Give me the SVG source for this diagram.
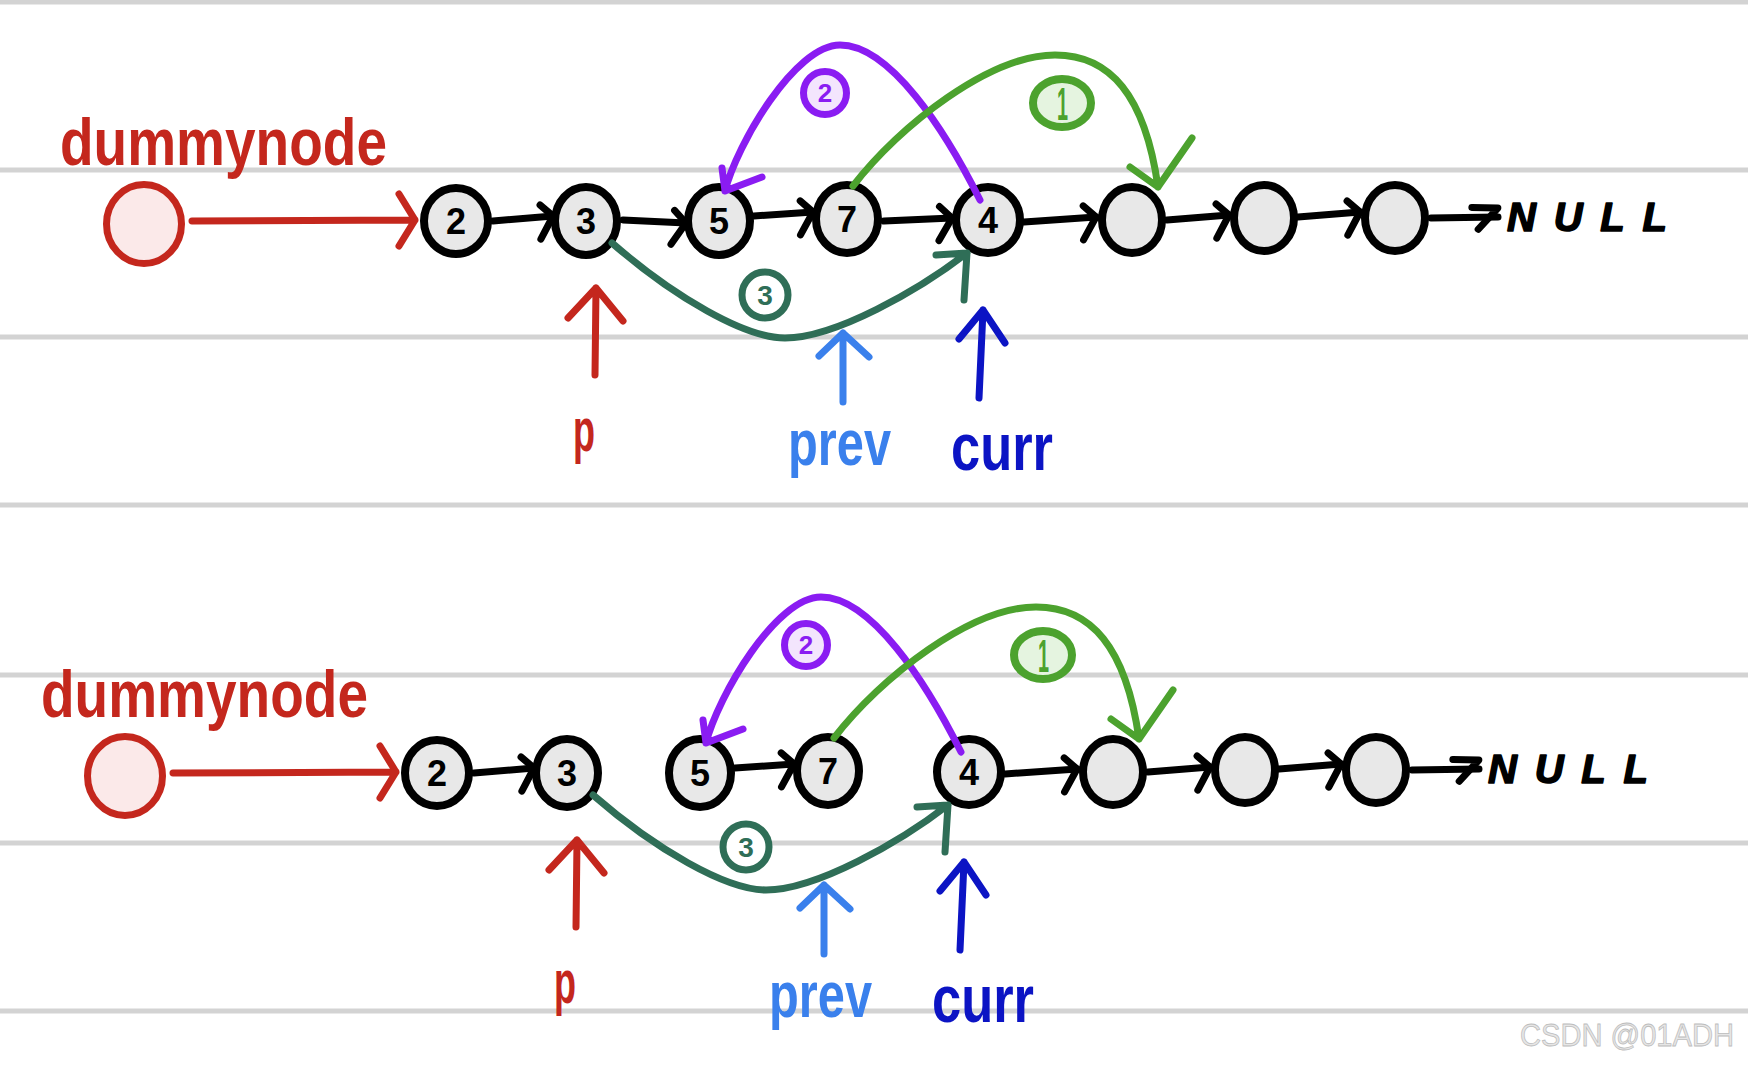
<svg xmlns="http://www.w3.org/2000/svg" width="1748" height="1065" viewBox="0 0 1748 1065">
<defs>
<style>
.bg{fill:#ffffff}
.rule{stroke:#d3d3d3;stroke-width:5}
.node{fill:#e8e8e8;stroke:#000;stroke-width:8}
.num{font-family:"Liberation Sans",Arial,sans-serif;font-weight:bold;font-size:36px;text-anchor:middle;fill:#000}
.link{fill:none;stroke:#000;stroke-width:7;stroke-linecap:round;stroke-linejoin:round}
.hand{font-family:"Liberation Sans",Arial,sans-serif;font-weight:bold}
.nulltxt{font-family:"Liberation Sans",Arial,sans-serif;font-weight:bold;font-style:italic;font-size:40px;fill:#000;stroke:#000;stroke-width:1.5;stroke-linejoin:round}
.red{stroke:#c4271d}
.lblue{stroke:#3a80ec}
.dblue{stroke:#0c14c4}
.purple{stroke:#8a1cf2}
.green{stroke:#4ca22e}
.dgreen{stroke:#2f6e57}
.pen{fill:none;stroke-width:7;stroke-linecap:round;stroke-linejoin:round}
</style>
<marker id="chev" markerUnits="userSpaceOnUse" viewBox="-30 -30 40 60" refX="0" refY="0" markerWidth="40" markerHeight="60" orient="auto" overflow="visible">
<path d="M-12,-12 L0,0 L-14,22" fill="none" stroke="#000" stroke-width="7" stroke-linecap="round" stroke-linejoin="round"/>
</marker>
<marker id="chevnull" markerUnits="userSpaceOnUse" viewBox="-30 -30 40 60" refX="0" refY="0" markerWidth="40" markerHeight="60" orient="auto" overflow="visible">
<path d="M-26,-10 L0,-9 L-20,12" fill="none" stroke="#000" stroke-width="7" stroke-linecap="round" stroke-linejoin="round"/>
</marker>
</defs>
<rect class="bg" x="0" y="0" width="1748" height="1065"/>
<g id="rules">
<line class="rule" x1="0" y1="2" x2="1748" y2="2"/>
<line class="rule" x1="0" y1="170" x2="1748" y2="170"/>
<line class="rule" x1="0" y1="337" x2="1748" y2="337"/>
<line class="rule" x1="0" y1="505" x2="1748" y2="505"/>
<line class="rule" x1="0" y1="675" x2="1748" y2="675"/>
<line class="rule" x1="0" y1="843" x2="1748" y2="843"/>
<line class="rule" x1="0" y1="1011" x2="1748" y2="1011"/>
</g>

<g id="top">
<g id="t-dummynode">
<ellipse cx="144" cy="224" rx="37.5" ry="39.5" fill="#fbe9e9" stroke="#c4271d" stroke-width="7"/>
<text class="hand" x="60" y="165" font-size="66" fill="#c4271d" textLength="327" lengthAdjust="spacingAndGlyphs">dummynode</text>
</g>
<g id="t-n2"><ellipse class="node" cx="456" cy="221" rx="32" ry="33"/><text class="num" x="456" y="234">2</text></g>
<g id="t-n3"><ellipse class="node" cx="586" cy="221" rx="31" ry="34"/><text class="num" x="586" y="234">3</text></g>
<g id="t-n5"><ellipse class="node" cx="719" cy="221" rx="31" ry="34"/><text class="num" x="719" y="234">5</text></g>
<g id="t-n7"><ellipse class="node" cx="847" cy="219" rx="31" ry="34"/><text class="num" x="847" y="232">7</text></g>
<g id="t-n4"><ellipse class="node" cx="988" cy="220" rx="32" ry="33"/><text class="num" x="988" y="233">4</text></g>
<g id="t-e1"><ellipse class="node" cx="1132" cy="220" rx="30" ry="33"/></g>
<g id="t-e2"><ellipse class="node" cx="1264" cy="218" rx="30" ry="33"/></g>
<g id="t-e3"><ellipse class="node" cx="1395" cy="218" rx="30" ry="33"/></g>
<g id="t-null"><text class="nulltxt" x="1507" y="231" textLength="160" lengthAdjust="spacing">NULL</text></g>
<g id="t-p"><text class="hand" x="573" y="451" font-size="62" fill="#c4271d" textLength="22" lengthAdjust="spacingAndGlyphs">p</text></g>
<g id="t-prev"><text class="hand" x="788" y="465" font-size="64" fill="#3a80ec" textLength="103" lengthAdjust="spacingAndGlyphs">prev</text></g>
<g id="t-curr"><text class="hand" x="951" y="470" font-size="66" fill="#0c14c4" textLength="102" lengthAdjust="spacingAndGlyphs">curr</text></g>
<g id="t-lbl2">
<circle cx="825" cy="93" r="21.5" fill="#f3e5fd" class="purple" stroke-width="7"/>
<text class="hand" x="825" y="102" font-size="26" text-anchor="middle" fill="#8a1cf2">2</text>
</g>
<g id="t-lbl1">
<ellipse cx="1062" cy="103" rx="29" ry="24" fill="#e5f4e0" class="green" stroke-width="8"/>
<text class="hand" x="1057" y="120" font-size="46" fill="#4ca22e" textLength="11" lengthAdjust="spacingAndGlyphs">1</text>
</g>
<g id="t-lbl3">
<circle cx="765" cy="295" r="23" fill="#ffffff" class="dgreen" stroke-width="7"/>
<text class="hand" x="765" y="305" font-size="28" text-anchor="middle" fill="#2f6e57">3</text>
</g>
<g id="t-connectors">
<path class="pen red" d="M192,221 L415,220 M399,194 L415,220 L399,246"/>
<path class="link" d="M493,221 L553,216" marker-end="url(#chev)"/>
<path class="link" d="M623,220 L686,223" marker-end="url(#chev)"/>
<path class="link" d="M754,216 L813,212" marker-end="url(#chev)"/>
<path class="link" d="M884,221 L952,218" marker-end="url(#chev)"/>
<path class="link" d="M1024,222 L1096,217" marker-end="url(#chev)"/>
<path class="link" d="M1167,220 L1229,215" marker-end="url(#chev)"/>
<path class="link" d="M1298,217 L1360,212" marker-end="url(#chev)"/>
<path class="link" d="M1431,218 L1498,217" marker-end="url(#chevnull)"/>
<path class="pen purple" d="M980,200 C945,130 890,45 840,45 C795,45 737,144 725,191 M762,177 L725,191 L722,168"/>
<path class="pen green" d="M853,186 C900,125 990,55 1055,55 C1110,55 1145,95 1158,187 M1130,167 L1158,187 L1192,138"/>
<path class="pen dgreen" d="M612,243 C674,297 745,338 785,338 C835,338 919,290 967,253 M936,255 L967,253 L964,300"/>
<path class="pen red" d="M595,375 L596,288 M568,318 L596,288 L623,321"/>
<path class="pen lblue" d="M843,402 L843,333 M819,356 L843,333 L869,357"/>
<path class="pen dblue" d="M979,398 L983,310 M959,339 L983,310 L1005,343"/>
</g>
</g>

<g id="bottom" transform="translate(-19,552)">
<g id="b-dummynode">
<ellipse cx="144" cy="224" rx="37.5" ry="39.5" fill="#fbe9e9" stroke="#c4271d" stroke-width="7"/>
<text class="hand" x="60" y="165" font-size="66" fill="#c4271d" textLength="327" lengthAdjust="spacingAndGlyphs">dummynode</text>
</g>
<g id="b-n2"><ellipse class="node" cx="456" cy="221" rx="32" ry="33"/><text class="num" x="456" y="234">2</text></g>
<g id="b-n3"><ellipse class="node" cx="586" cy="221" rx="31" ry="34"/><text class="num" x="586" y="234">3</text></g>
<g id="b-n5"><ellipse class="node" cx="719" cy="221" rx="31" ry="34"/><text class="num" x="719" y="234">5</text></g>
<g id="b-n7"><ellipse class="node" cx="847" cy="219" rx="31" ry="34"/><text class="num" x="847" y="232">7</text></g>
<g id="b-n4"><ellipse class="node" cx="988" cy="220" rx="32" ry="33"/><text class="num" x="988" y="233">4</text></g>
<g id="b-e1"><ellipse class="node" cx="1132" cy="220" rx="30" ry="33"/></g>
<g id="b-e2"><ellipse class="node" cx="1264" cy="218" rx="30" ry="33"/></g>
<g id="b-e3"><ellipse class="node" cx="1395" cy="218" rx="30" ry="33"/></g>
<g id="b-null"><text class="nulltxt" x="1507" y="231" textLength="160" lengthAdjust="spacing">NULL</text></g>
<g id="b-p"><text class="hand" x="573" y="451" font-size="62" fill="#c4271d" textLength="22" lengthAdjust="spacingAndGlyphs">p</text></g>
<g id="b-prev"><text class="hand" x="788" y="465" font-size="64" fill="#3a80ec" textLength="103" lengthAdjust="spacingAndGlyphs">prev</text></g>
<g id="b-curr"><text class="hand" x="951" y="470" font-size="66" fill="#0c14c4" textLength="102" lengthAdjust="spacingAndGlyphs">curr</text></g>
<g id="b-lbl2">
<circle cx="825" cy="93" r="21.5" fill="#f3e5fd" class="purple" stroke-width="7"/>
<text class="hand" x="825" y="102" font-size="26" text-anchor="middle" fill="#8a1cf2">2</text>
</g>
<g id="b-lbl1">
<ellipse cx="1062" cy="103" rx="29" ry="24" fill="#e5f4e0" class="green" stroke-width="8"/>
<text class="hand" x="1057" y="120" font-size="46" fill="#4ca22e" textLength="11" lengthAdjust="spacingAndGlyphs">1</text>
</g>
<g id="b-lbl3">
<circle cx="765" cy="295" r="23" fill="#ffffff" class="dgreen" stroke-width="7"/>
<text class="hand" x="765" y="305" font-size="28" text-anchor="middle" fill="#2f6e57">3</text>
</g>
<g id="b-connectors">
<path class="pen red" d="M192,221 L415,220 M399,194 L415,220 L399,246"/>
<path class="link" d="M493,221 L553,216" marker-end="url(#chev)"/>
<path class="link" d="M754,216 L813,212" marker-end="url(#chev)"/>
<path class="link" d="M1024,222 L1096,217" marker-end="url(#chev)"/>
<path class="link" d="M1167,220 L1229,215" marker-end="url(#chev)"/>
<path class="link" d="M1298,217 L1360,212" marker-end="url(#chev)"/>
<path class="link" d="M1431,218 L1498,217" marker-end="url(#chevnull)"/>
<path class="pen purple" d="M980,200 C945,130 890,45 840,45 C795,45 737,144 725,191 M762,177 L725,191 L722,168"/>
<path class="pen green" d="M853,186 C900,125 990,55 1055,55 C1110,55 1145,95 1158,187 M1130,167 L1158,187 L1192,138"/>
<path class="pen dgreen" d="M612,243 C674,297 745,338 785,338 C835,338 919,290 967,253 M936,255 L967,253 L964,300"/>
<path class="pen red" d="M595,375 L596,288 M568,318 L596,288 L623,321"/>
<path class="pen lblue" d="M843,402 L843,333 M819,356 L843,333 L869,357"/>
<path class="pen dblue" d="M979,398 L983,310 M959,339 L983,310 L1005,343"/>
</g>
</g>

<g id="watermark">
<text x="1520" y="1046" font-family="Liberation Sans, Arial, sans-serif" font-size="32" fill="#e6e6e6" stroke="#bdbdbd" stroke-width="0.8" textLength="214" lengthAdjust="spacingAndGlyphs">CSDN @01ADH</text>
</g>
</svg>
